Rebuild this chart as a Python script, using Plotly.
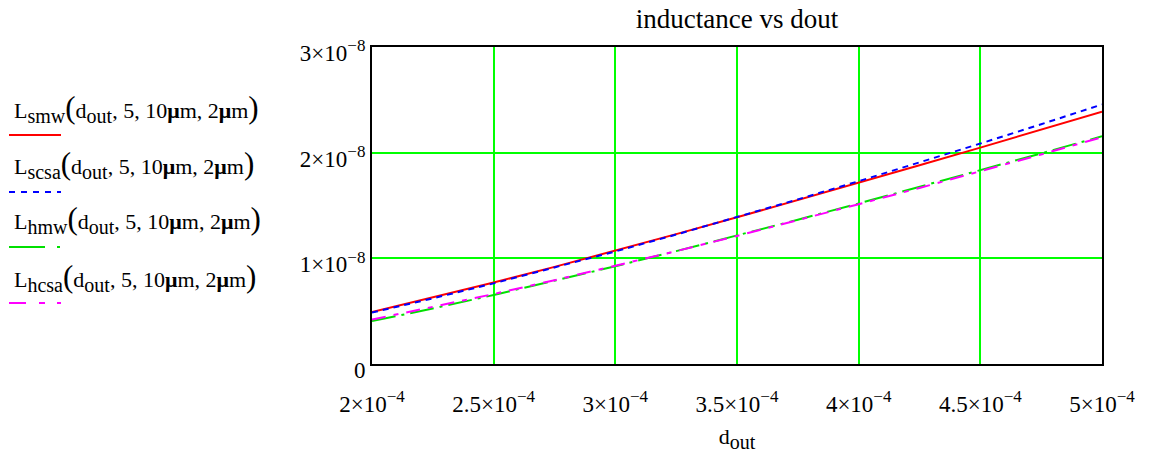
import plotly.graph_objects as go

# ---- data ----
d_out = [2.00e-4, 2.25e-4, 2.50e-4, 2.75e-4, 3.00e-4, 3.25e-4, 3.50e-4,
         3.75e-4, 4.00e-4, 4.25e-4, 4.50e-4, 4.75e-4, 5.00e-4]
L_smw = [4.92e-9, 6.28e-9, 7.71e-9, 9.19e-9, 1.072e-8, 1.229e-8, 1.388e-8,
         1.550e-8, 1.715e-8, 1.881e-8, 2.048e-8, 2.217e-8, 2.388e-8]
L_scsa = [4.87e-9, 6.21e-9, 7.63e-9, 9.11e-9, 1.065e-8, 1.225e-8, 1.389e-8,
          1.558e-8, 1.730e-8, 1.907e-8, 2.086e-8, 2.269e-8, 2.456e-8]
L_hmw = [4.06e-9, 5.25e-9, 6.53e-9, 7.86e-9, 9.25e-9, 1.068e-8, 1.215e-8,
         1.366e-8, 1.519e-8, 1.675e-8, 1.833e-8, 1.993e-8, 2.155e-8]
L_hcsa = [4.20e-9, 5.38e-9, 6.62e-9, 7.93e-9, 9.28e-9, 1.068e-8, 1.212e-8,
          1.360e-8, 1.512e-8, 1.666e-8, 1.823e-8, 1.983e-8, 2.146e-8]

x_tickvals = [2e-4, 2.5e-4, 3e-4, 3.5e-4, 4e-4, 4.5e-4, 5e-4]
x_tick_mant = ["2", "2.5", "3", "3.5", "4", "4.5", "5"]
x_tick_exp = "−4"
y_tickvals = [0, 1e-8, 2e-8, 3e-8]
y_tick_mant = ["0", "1", "2", "3"]
y_tick_exp = "−8"

series_names = ["smw", "scsa", "hmw", "hcsa"]
series_values = [L_smw, L_scsa, L_hmw, L_hcsa]
series_colors = ["#ff0000", "#0000ff", "#00e000", "#ff00ff"]
series_dash = ["solid", "6px,5px", "24px,6px,3px,6px", "14px,8px,5px,8px"]
legend_dash = ["solid", "6px,6px", "36px,12px,3px,12px", "17px,13px,6px,12px"]

FONT = "Liberation Serif, Times New Roman, serif"
TICKSZ = 23
SUPSZ = 17
LEGSZ = 22
SUBSZ = 20


def sci(mant, exp):
    if mant == "0":
        return "0"
    return mant + "×10<sup><span style='font-size:%dpx'>%s</span></sup>" % (SUPSZ, exp)


def sub(t):
    return "<sub><span style='font-size:%dpx'>%s</span></sub>" % (SUBSZ, t)


x_ticktext = [sci(m, x_tick_exp) for m in x_tick_mant]
y_ticktext = [sci(m, y_tick_exp) for m in y_tick_mant]

fig = go.Figure()
for name, vals, col, dash in zip(series_names, series_values, series_colors, series_dash):
    fig.add_trace(go.Scatter(x=d_out, y=vals, mode="lines", name=name,
                             line=dict(color=col, width=2, dash=dash),
                             showlegend=False))

# ---- custom legend (text above a line sample), placed left of the plot ----
L0, T0, W, H = 372, 47, 730, 317  # plot area in px
FW, FH = 1155, 461


def px_x(px):
    return (px - L0) / W


def px_y(py):
    return (T0 + H - py) / H


text_y = [108, 164, 220, 277]
line_y = [135, 192, 247, 303]
paren_o = "<span style='font-size:31px'>(</span>"
paren_c = "<span style='font-size:31px'>)</span>"
for name, col, dash, ty, ly in zip(series_names, series_colors, legend_dash, text_y, line_y):
    txt = ("L" + sub(name) + paren_o + "d" + sub("out") + ", 5, 10<b>μ</b>m, 2<b>μ</b>m"
           + paren_c)
    fig.add_annotation(x=px_x(12), y=px_y(ty), xref="paper", yref="paper",
                       text=txt, showarrow=False, xanchor="left", yanchor="middle",
                       font=dict(family=FONT, size=LEGSZ, color="black"))
    fig.add_shape(type="line", xref="paper", yref="paper",
                  x0=px_x(9), x1=px_x(61), y0=px_y(ly), y1=px_y(ly),
                  line=dict(color=col, width=2, dash=dash))

fig.update_layout(
    width=FW, height=FH,
    margin=dict(l=L0, r=FW - L0 - W, t=T0, b=FH - T0 - H),
    paper_bgcolor="white", plot_bgcolor="white",
    font=dict(family=FONT, size=TICKSZ, color="black"),
    title=dict(text="inductance vs dout", x=0.5, xref="paper", xanchor="center",
               y=1 - 19 / FH, yanchor="middle", yref="container",
               font=dict(family=FONT, size=27, color="black")),
)
fig.update_xaxes(range=[2e-4, 5e-4], tickvals=x_tickvals, ticktext=x_ticktext,
                 showgrid=True, gridcolor="#00ff00", gridwidth=2,
                 showline=True, linecolor="black", linewidth=2, mirror=True,
                 zeroline=False, ticks="", ticklabelstandoff=18,
                 tickfont=dict(family=FONT, size=TICKSZ),
                 title=dict(text="d" + sub("out"), standoff=13,
                            font=dict(family=FONT, size=22)))
fig.update_yaxes(range=[0, 3e-8], tickvals=y_tickvals, ticktext=y_ticktext,
                 showgrid=True, gridcolor="#00ff00", gridwidth=2,
                 showline=True, linecolor="black", linewidth=2, mirror=True,
                 zeroline=False, ticks="", ticklabelstandoff=0, ticklabelshift=6,
                 tickfont=dict(family=FONT, size=TICKSZ))

fig.write_html("out.html", config={"displayModeBar": False},
               post_script="document.body.style.margin='0';")
